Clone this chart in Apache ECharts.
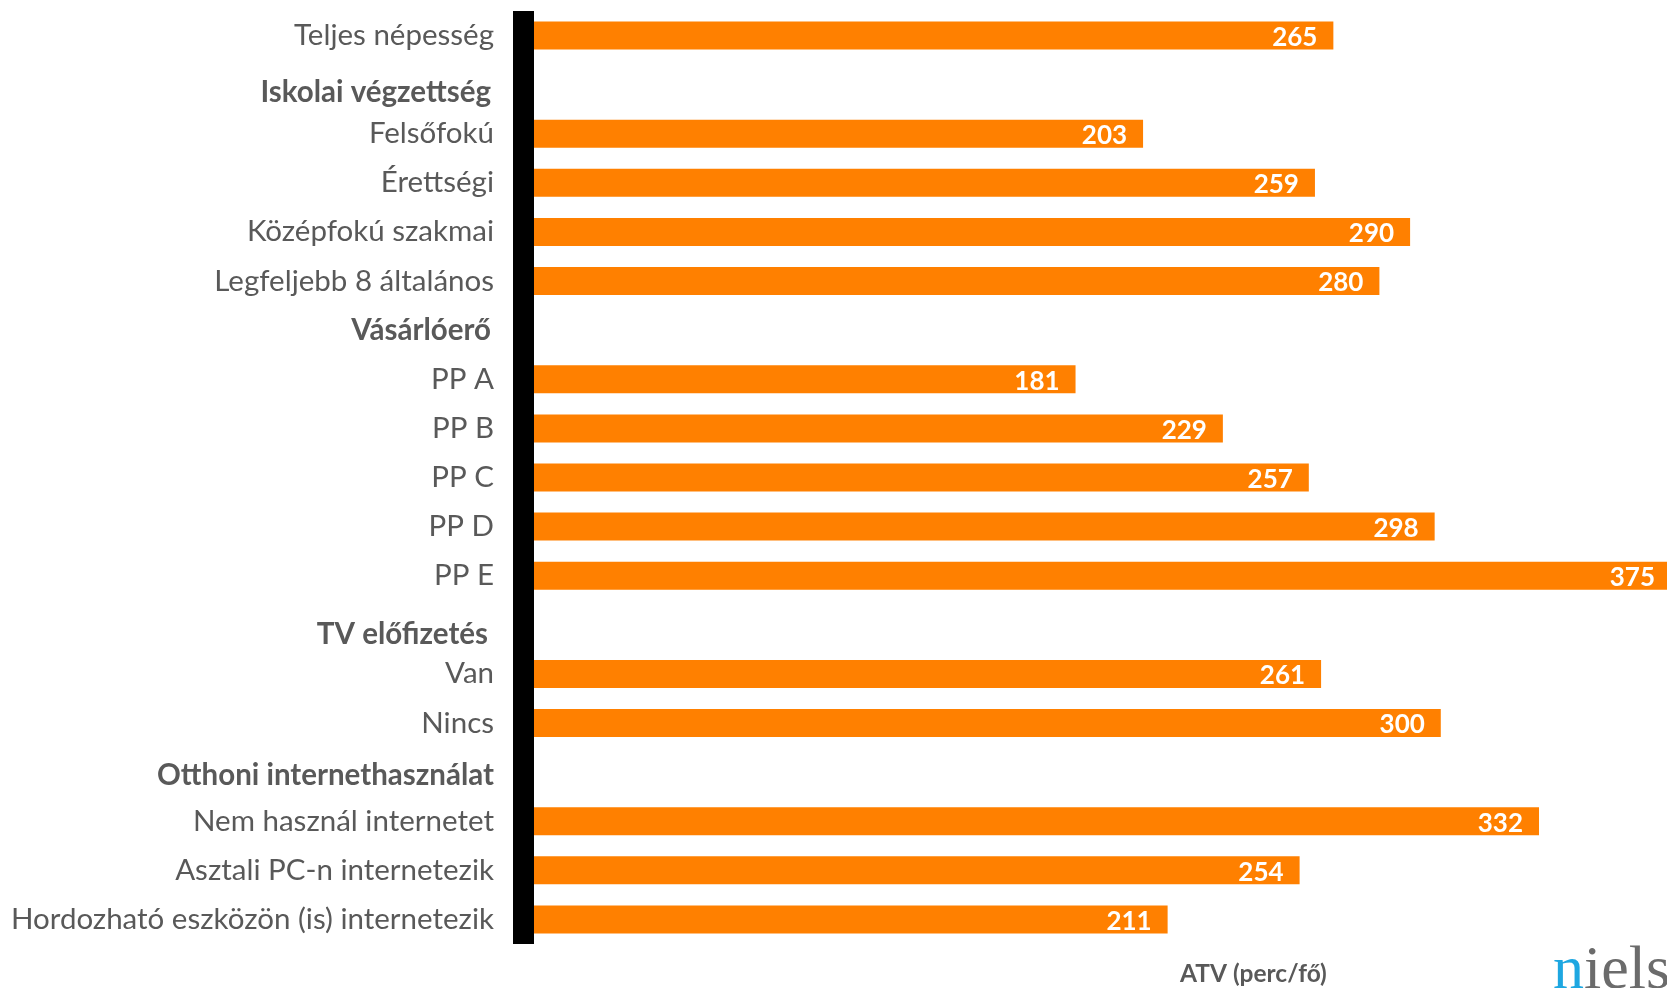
<!DOCTYPE html>
<html style="height: 100%">
<head>
<meta charset="utf-8">
<title>ATV</title>
<style>
  html, body { margin: 0; padding: 0; background: #fff; }
  #chart { width: 1667px; height: 988px; }
</style>
</head>
<body>
<div id="chart"></div>
<script src="https://cdn.jsdelivr.net/npm/echarts@6/dist/echarts.min.js"></script>
<script>
// kategóriák (a fejléc-sorokhoz nincs érték)
var categories = [
  'Teljes népesség',
  'Iskolai végzettség',
  'Felsőfokú',
  'Érettségi',
  'Középfokú szakmai',
  'Legfeljebb 8 általános',
  'Vásárlóerő',
  'PP A',
  'PP B',
  'PP C',
  'PP D',
  'PP E',
  'TV előfizetés',
  'Van',
  'Nincs',
  'Otthoni internethasználat',
  'Nem használ internetet',
  'Asztali PC-n internetezik',
  'Hordozható eszközön (is) internetezik'
];
var headers = ['Iskolai végzettség', 'Vásárlóerő', 'TV előfizetés', 'Otthoni internethasználat'];
var atvValues = [265, null, 203, 259, 290, 280, null, 181, 229, 257, 298, 375, null, 261, 300, null, 332, 254, 211];
var axisTitle = 'ATV (perc/fő)';

// fejlécek rich stílusa (kis függőleges eltolással)
var headerStyle = {
  'Iskolai végzettség': 'h1',
  'Vásárlóerő': 'h2',
  'TV előfizetés': 'h3',
  'Otthoni internethasználat': 'h4'
};
function hStyle(pad) {
  return { fontSize: 29.5, fontWeight: 'bold', color: '#595959', fontFamily: 'Lato', padding: pad };
}

var myChart = echarts.init(document.getElementById('chart'));

var option = {
  animation: false,
  textStyle: { fontFamily: 'Lato' },
  grid: {
    left: 520,
    right: 0,
    top: 11,
    bottom: 44
  },
  xAxis: {
    type: 'value',
    min: 0,
    max: 373.7, // a leghosszabb sáv kilóg a kép széléről
    show: false
  },
  yAxis: {
    type: 'category',
    data: categories,
    inverse: true,
    offset: -3.5,
    z: 5,
    axisLine: { lineStyle: { color: '#000', width: 21, cap: 'butt' } },
    axisTick: { show: false },
    axisLabel: {
      margin: 29.5,
      fontSize: 29.5,
      color: '#595959',
      fontFamily: 'Lato',
      formatter: function (v) {
        if (headerStyle[v]) return '{' + headerStyle[v] + '|' + v + '}';
        return v;
      },
      rich: {
        h1: hStyle([16, 3, 0, 0]),
        h2: hStyle([0, 3, 0, 0]),
        h3: hStyle([20, 6, 0, 0]),
        h4: hStyle([6, 0, 0, 0])
      }
    }
  },
  series: [{
    type: 'bar',
    data: atvValues,
    barWidth: 28,
    clip: false,
    z: 2,
    itemStyle: { color: '#FF8000' },
    label: {
      show: true,
      position: 'insideRight',
      distance: 16,
      offset: [0, 2],
      color: '#fff',
      fontWeight: 'bold',
      fontSize: 26,
      fontFamily: 'Lato'
    }
  }],
  graphic: [
    {
      type: 'text',
      left: 1180,
      top: 962,
      style: { text: axisTitle, fontSize: 24.5, fontWeight: 'bold', fill: '#595959', fontFamily: 'Lato' }
    },
    {
      type: 'text',
      left: 1553,
      top: 941,
      style: {
        text: '{b|n}{g|ielsen}',
        rich: {
          b: { fontSize: 62, fill: '#1EA7E1', fontFamily: 'Liberation Serif' },
          g: { fontSize: 62, fill: '#6b6b6b', fontFamily: 'Liberation Serif' }
        }
      }
    }
  ]
};
myChart.setOption(option);
</script>
</body>
</html>
